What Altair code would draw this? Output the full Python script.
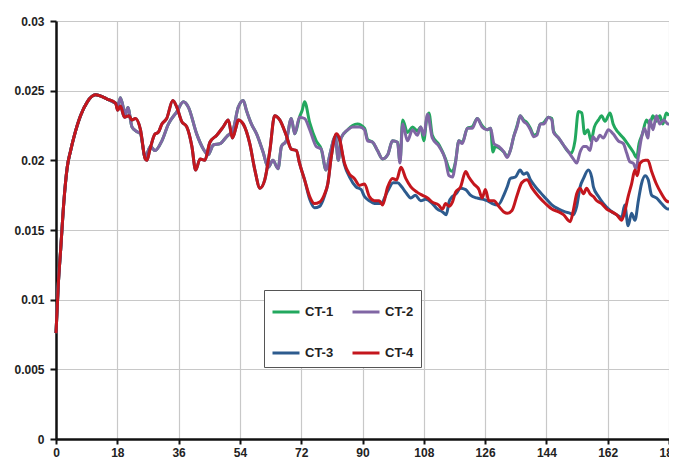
import altair as alt
import pandas as pd

# ---- data ----
# common start-up rise shared by all four series
rise_t = [0, 0.7, 1.4, 2.3, 3.3, 4.3, 5.3, 7.2, 9.2, 11.6, 15, 17.5]
rise_v = [0.0076, 0.0112, 0.0137, 0.0170, 0.0195, 0.0207, 0.0217, 0.0232, 0.0242, 0.0247, 0.0244, 0.0241]

# CT-4 (red) after the rise
ct4_t = [18.1, 18.9, 20.1, 21.4, 22.3, 23.3, 24.8, 26.2, 26.7, 27.5, 29.1, 30, 31.1, 32.5, 34.3, 35.5, 36.9, 38.4,
         39.9, 41, 42.3, 43.7, 45.2, 47.2, 49.1, 50.6, 51.8, 53, 53.5, 55, 56.9, 58.4, 59.9, 61.3, 62.8, 64.2, 65.7,
         67.6, 69.1, 70.6, 71.5, 73, 74.5, 75.9, 77.4, 78.9, 79.8, 80.8, 82.3, 83.2, 84.7, 86.2, 87.6, 89.1, 90.6,
         92, 93.5, 94.9, 95.9, 97.4, 98.8, 100, 101.3, 102.7, 104.2, 106.1, 107.5, 109.1, 110.5, 112.3, 113.5,
         114.4, 115.4, 116.4, 117.3, 118.8, 120.3, 121.2, 122.7, 124.2, 125.1, 126.1, 127.1, 128.6, 130, 131.5,
         132.5, 133.9, 135.4, 136.8, 138.3, 139.8, 141.7, 143.7, 145.6, 147.6, 149, 151, 151.9, 152.9, 153.9,
         154.9, 155.8, 156.8, 157.8, 158.8, 160.2, 161.7, 163.2, 164.6, 166.1, 167, 168, 169, 170, 170.7, 171.5,
         173, 173.8, 174.9, 176.3, 177.8, 179.2, 180]
ct4_v = [0.0236, 0.0239, 0.0231, 0.0232, 0.0229, 0.0230, 0.0222, 0.0201, 0.0200, 0.0207, 0.0219, 0.0220, 0.0226,
         0.0230, 0.0243, 0.0238, 0.0228, 0.0224, 0.0210, 0.0193, 0.0201, 0.0200, 0.0213, 0.0218, 0.0224, 0.0229,
         0.0216, 0.0225, 0.0229, 0.0226, 0.0212, 0.0193, 0.0180, 0.0186, 0.0207, 0.0232, 0.0229, 0.0218, 0.0208,
         0.0207, 0.0198, 0.0186, 0.0174, 0.0169, 0.0170, 0.0176, 0.0183, 0.0202, 0.0219, 0.0216, 0.0198, 0.0190,
         0.0187, 0.0182, 0.0183, 0.0174, 0.0171, 0.0171, 0.0168, 0.0181, 0.0187, 0.0186, 0.0195, 0.0187, 0.0181,
         0.0177, 0.0175, 0.0173, 0.0170, 0.0168, 0.0165, 0.0169, 0.0167, 0.0170, 0.0177, 0.0181, 0.0192, 0.0188,
         0.0183, 0.0179, 0.0173, 0.0179, 0.0171, 0.0171, 0.0167, 0.0163, 0.0162, 0.0164, 0.0175, 0.0184, 0.0186,
         0.0180, 0.0174, 0.0169, 0.0165, 0.0163, 0.0161, 0.0156, 0.0164, 0.0176, 0.0180, 0.0176, 0.0180, 0.0176,
         0.0174, 0.0171, 0.0169, 0.0165, 0.0163, 0.0161, 0.0157, 0.0163, 0.0174, 0.0183, 0.0193, 0.0189, 0.0198,
         0.0200, 0.0200, 0.0192, 0.0183, 0.0176, 0.0171, 0.0170]

# CT-3 (blue) follows CT-4 up to t=73, then its own path
ct3_split = 73
ct3_t = [74.5, 75.9, 77.4, 78.9, 79.8, 80.8, 82.3, 83.2, 84.7, 86.2, 88.1, 89.6, 90.6, 92, 93.5, 95.4, 97.4, 99,
         100.3, 101.5, 102.7, 104.2, 105.5, 107.1, 108.5, 110.5, 112, 113.5, 114.6, 115.4, 116.4, 117.5, 118.8,
         120.3, 121.7, 123.5, 125.5, 126.6, 128.1, 129.8, 131.5, 132.5, 133.4, 134.9, 136.3, 137.3, 138.3, 139.3,
         140.8, 142.2, 143.7, 145.6, 147.6, 149.5, 151, 151.9, 152.9, 153.9, 154.9, 156.3, 157.3, 157.8, 159.3,
         160.7, 162.7, 164.6, 166.1, 167, 168, 169, 170, 171, 171.9, 173, 173.9, 174.9, 176.3, 177.8, 179.7, 180]
ct3_v = [0.0172, 0.0166, 0.0167, 0.0175, 0.0183, 0.0202, 0.0218, 0.0215, 0.0197, 0.0188, 0.0181, 0.0179, 0.0174,
         0.0171, 0.0169, 0.0169, 0.0178, 0.0184, 0.0184, 0.0181, 0.0177, 0.0173, 0.0175, 0.0171, 0.0172, 0.0169,
         0.0165, 0.0163, 0.0161, 0.0170, 0.0174, 0.0176, 0.0180, 0.0179, 0.0175, 0.0173, 0.0172, 0.0171, 0.0169,
         0.0168, 0.0175, 0.0181, 0.0187, 0.0188, 0.0193, 0.0190, 0.0191, 0.0186, 0.0181, 0.0177, 0.0173, 0.0168,
         0.0165, 0.0163, 0.0162, 0.0161, 0.0167, 0.0181, 0.0187, 0.0193, 0.0188, 0.0181, 0.0174, 0.0169, 0.0164,
         0.0161, 0.0159, 0.0168, 0.0153, 0.0162, 0.0157, 0.0171, 0.0183, 0.0189, 0.0186, 0.0175, 0.0173, 0.0169,
         0.0165, 0.0165]

# CT-2 (purple) after the rise
ct2_t = [18.3, 18.9, 20.4, 21.1, 22.3, 23.5, 24.8, 26.2, 27.7, 29.1, 31.1, 33, 35.5, 37.4, 38.9, 41.3, 43.3, 44.7,
         46.2, 48.2, 50.1, 52, 53.5, 55, 55.9, 57.4, 58.9, 60.8, 62.3, 63.7, 65.2, 66.2, 67.6, 69.1, 70.1, 71.5, 73,
         74.5, 76.4, 77.9, 79.3, 80.5, 82, 82.9, 83.7, 85.7, 87.1, 89.1, 90.6, 91.5, 93, 94.4, 95.9, 97.4, 98.8,
         100.3, 101, 101.8, 103.2, 104.7, 106.1, 107.1, 108, 109.1, 110.5, 112.5, 114.4, 115.4, 116.4, 117.3,
         118.3, 119.3, 120.8, 122.2, 123.7, 125.1, 126.6, 127.6, 128.6, 130, 131.5, 132.5, 133.4, 134.4, 135.4,
         136.3, 137.3, 138.3, 139.3, 140.3, 141.2, 142.2, 143.2, 144.6, 145.6, 146.1, 147.6, 149, 150.5, 151.9,
         152.9, 153.9, 154.9, 155.8, 156.8, 157.7, 158.7, 159.7, 160.7, 162.2, 163.6, 165.1, 166.6, 167.6, 168.5,
         169.5, 170.3, 171.2, 171.9, 172.8, 173.8, 174.4, 175.3, 176.3, 177.3, 178.5, 179.7, 180]
ct2_v = [0.0240, 0.0245, 0.0233, 0.0238, 0.0224, 0.0221, 0.0219, 0.0202, 0.0210, 0.0207, 0.0214, 0.0226, 0.0235,
         0.0242, 0.0238, 0.0219, 0.0208, 0.0204, 0.0211, 0.0212, 0.0217, 0.0222, 0.0238, 0.0243, 0.0236, 0.0226,
         0.0219, 0.0206, 0.0195, 0.0200, 0.0194, 0.0210, 0.0214, 0.0230, 0.0219, 0.0231, 0.0230, 0.0222, 0.0210,
         0.0208, 0.0193, 0.0205, 0.0217, 0.0200, 0.0216, 0.0222, 0.0224, 0.0224, 0.0222, 0.0214, 0.0213, 0.0207,
         0.0201, 0.0204, 0.0214, 0.0213, 0.0198, 0.0226, 0.0214, 0.0222, 0.0218, 0.0224, 0.0218, 0.0233, 0.0216,
         0.0210, 0.0200, 0.0189, 0.0188, 0.0198, 0.0214, 0.0212, 0.0223, 0.0223, 0.0230, 0.0224, 0.0222, 0.0223,
         0.0212, 0.0210, 0.0206, 0.0202, 0.0207, 0.0217, 0.0224, 0.0232, 0.0228, 0.0226, 0.0222, 0.0217, 0.0218,
         0.0226, 0.0226, 0.0231, 0.0229, 0.0220, 0.0216, 0.0211, 0.0206, 0.0201, 0.0198, 0.0206, 0.0210, 0.0210,
         0.0207, 0.0217, 0.0214, 0.0218, 0.0216, 0.0222, 0.0219, 0.0214, 0.0212, 0.0205, 0.0199, 0.0198, 0.0194,
         0.0206, 0.0216, 0.0223, 0.0216, 0.0229, 0.0222, 0.0232, 0.0226, 0.0229, 0.0226, 0.0226]

# CT-1 (green) follows CT-2 up to t=70.1, then its own path
ct1_split = 70.1
ct1_t = [71.5, 72.3, 73, 74.5, 76.4, 77.9, 79.3, 80.5, 82, 82.9, 83.7, 85.7, 87.1, 88.5, 90.6, 91.5, 93, 94.4, 95.9,
         97.4, 98.8, 100.3, 101, 101.8, 103.2, 104.7, 106.1, 107.1, 108, 108.8, 109.5, 110.5, 112.5, 114.4, 115.4,
         116.4, 117.3, 118.3, 119.3, 120.8, 122.2, 123.7, 125.1, 126.6, 127.6, 128.3, 129, 130, 131.5, 132.5,
         133.4, 134.4, 135.4, 136.3, 137.3, 138.3, 139.3, 140.3, 141.2, 142.2, 143.2, 144.6, 145.6, 146.1, 147.6,
         149, 150.5, 151.3, 152.4, 153.4, 154.4, 155.2, 156.2, 157.1, 158.1, 159.3, 160.2, 161.2, 162.7, 163.6,
         165.1, 166.6, 168.1, 169.5, 170.5, 171.2, 172.2, 173.4, 174.3, 175.3, 176.3, 177.3, 178.2, 179.2, 180]
ct1_v = [0.0231, 0.0236, 0.0242, 0.0227, 0.0214, 0.0208, 0.0193, 0.0205, 0.0217, 0.0200, 0.0216, 0.0222, 0.0225,
         0.0226, 0.0223, 0.0215, 0.0213, 0.0207, 0.0201, 0.0204, 0.0214, 0.0213, 0.0199, 0.0229, 0.0220, 0.0224,
         0.0221, 0.0224, 0.0214, 0.0229, 0.0234, 0.0218, 0.0211, 0.0201, 0.0194, 0.0192, 0.0199, 0.0214, 0.0213,
         0.0223, 0.0224, 0.0230, 0.0225, 0.0222, 0.0223, 0.0206, 0.0210, 0.0209, 0.0206, 0.0203, 0.0207, 0.0217,
         0.0225, 0.0232, 0.0229, 0.0227, 0.0223, 0.0218, 0.0219, 0.0226, 0.0227, 0.0231, 0.0230, 0.0221, 0.0216,
         0.0211, 0.0206, 0.0205, 0.0214, 0.0235, 0.0234, 0.0219, 0.0222, 0.0214, 0.0224, 0.0229, 0.0232, 0.0228,
         0.0234, 0.0226, 0.0220, 0.0216, 0.0211, 0.0206, 0.0202, 0.0212, 0.0219, 0.0229, 0.0226, 0.0232, 0.0228,
         0.0232, 0.0226, 0.0234, 0.0232]

series_names = ["CT-1", "CT-2", "CT-3", "CT-4"]
series_colors = ["#22a85e", "#8066a4", "#2d5b8e", "#c4161d"]
x_ticks = [0, 18, 36, 54, 72, 90, 108, 126, 144, 162, 180]
y_ticks = [0, 0.005, 0.01, 0.015, 0.02, 0.025, 0.03]

# ---- assemble the long table ----
full4_t = rise_t + ct4_t
full4_v = rise_v + ct4_v
full2_t = rise_t + ct2_t
full2_v = rise_v + ct2_v
full3_t = [t for t in full4_t if t <= ct3_split] + ct3_t
full3_v = [v for t, v in zip(full4_t, full4_v) if t <= ct3_split] + ct3_v
full1_t = [t for t in full2_t if t <= ct1_split] + ct1_t
full1_v = [v for t, v in zip(full2_t, full2_v) if t <= ct1_split] + ct1_v

rows = []
for order, (name, ts, vs) in enumerate(zip(series_names,
                                           [full1_t, full2_t, full3_t, full4_t],
                                           [full1_v, full2_v, full3_v, full4_v])):
    for t, v in zip(ts, vs):
        rows.append({"t": t, "v": v, "series": name, "order": order})
df = pd.DataFrame(rows)

font = "Liberation Sans"

chart = alt.Chart(df).mark_line(strokeWidth=3, interpolate="monotone").encode(
    x=alt.X("t:Q",
            scale=alt.Scale(domain=[0, 180], nice=False, zero=True),
            axis=alt.Axis(values=x_ticks, title=None, format="d", labelFont=font, labelFontSize=12,
                          labelFontWeight="bold", labelColor="#222222", labelPadding=3,
                          domainColor="#111111", domainWidth=2.5, tickColor="#111111", tickWidth=2,
                          tickSize=5, gridColor="#c8c8c8", gridWidth=1.2, labelFlush=False,
                          labelOverlap=False)),
    y=alt.Y("v:Q",
            scale=alt.Scale(domain=[0, 0.03], nice=False),
            axis=alt.Axis(values=y_ticks, title=None, format="~g", labelFont=font, labelFontSize=12,
                          labelFontWeight="bold", labelColor="#222222", labelPadding=6,
                          domainColor="#111111", domainWidth=2.5, tickColor="#111111", tickWidth=2,
                          tickSize=6, gridColor="#c8c8c8", gridWidth=1.2, labelFlush=False)),
    color=alt.Color("series:N",
                    scale=alt.Scale(domain=series_names, range=series_colors),
                    legend=alt.Legend(title=None, orient="none", legendX=208, legendY=269, columns=2,
                                      direction="horizontal",
                                      symbolType="stroke", symbolSize=729, symbolStrokeWidth=3,
                                      labelFont=font, labelFontSize=13, labelFontWeight="bold",
                                      labelColor="#222222", labelOffset=4, rowPadding=19,
                                      columnPadding=12, padding=7, strokeColor="#555555",
                                      fillColor="white")),
    order=alt.Order("order:Q"),
    detail="series:N",
).properties(
    width=613,
    height=418,
    autosize=alt.AutoSizeParams(type="none"),
    padding={"left": 48, "top": 13, "right": 0, "bottom": 24},
).configure_view(stroke=None).configure(background="white")

chart.save("out.html", embed_options={"renderer": "svg", "actions": False})
